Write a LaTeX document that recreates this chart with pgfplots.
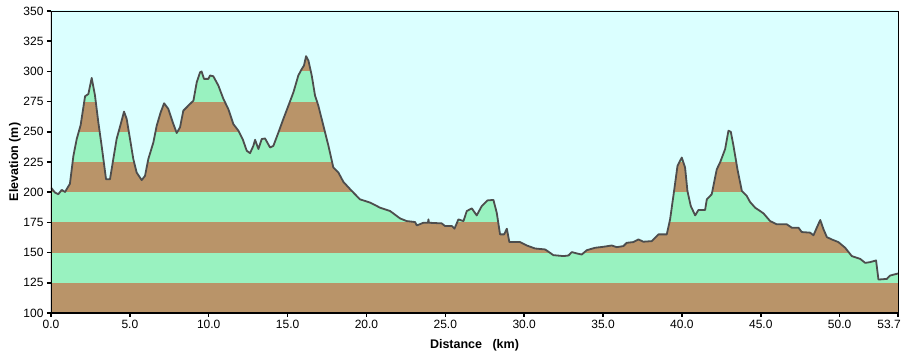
\documentclass[border=0pt]{standalone}
\usepackage{fontspec}
\setmainfont{Liberation Sans}
\usepackage{pgfplots}
\usepackage{pgfplotstable}
\pgfplotsset{compat=1.18}
\definecolor{sky}{RGB}{219,255,255}
\definecolor{soil}{RGB}{185,148,105}
\definecolor{grass}{RGB}{153,242,192}
\definecolor{prof}{RGB}{77,77,77}
\pgfplotstableread{
x y
0 203.8
0.25 199.7
0.46 198.3
0.68 201.9
0.89 200.2
1.20 207
1.42 230
1.63 244
1.88 255.6
2.16 279.4
2.37 281.3
2.58 294.6
2.79 280
3.00 258
3.21 238.4
3.49 210.7
3.74 210.7
3.95 227.4
4.16 244
4.42 256.4
4.63 266.7
4.80 260.6
5.01 244
5.22 227.4
5.43 216.3
5.75 210
5.96 213.5
6.17 227.4
6.49 241.2
6.70 255
6.95 266
7.17 273.6
7.44 268.9
7.72 257.8
7.97 249
8.18 253.7
8.39 267.5
8.81 273
9.03 275.8
9.24 291
9.45 299.3
9.55 299.9
9.70 293.8
9.98 293.8
10.08 296.6
10.29 296
10.61 288.3
10.93 277.2
11.24 268.9
11.56 256.4
11.88 250.9
12.15 244
12.41 234.3
12.62 232.3
12.83 238.4
12.94 243.4
13.15 235.7
13.36 244
13.57 244.5
13.89 237
14.10 238.4
14.42 249.5
14.73 260.6
15.05 271.6
15.37 282.7
15.68 296.6
15.90 302
16.04 304.9
16.17 312.6
16.32 309
16.53 296.6
16.74 280
16.95 271.6
17.27 255
17.59 238.4
17.90 220.4
18.22 216.3
18.54 208.5
19.07 201
19.59 194.1
20.23 191.4
20.86 187.2
21.50 184.4
22.13 178.3
22.55 176.1
23.08 175.3
23.19 172.5
23.61 174.7
23.90 174.7
23.93 177.5
23.96 174.7
24.77 174.2
24.98 172
25.41 172
25.58 169.8
25.83 177.5
26.15 176.1
26.36 184.4
26.68 186.6
26.99 180.8
27.31 188.5
27.67 193.2
28.05 193.6
28.26 183
28.47 165.1
28.73 165.1
28.90 169.8
29.06 158.7
29.74 158.7
30.16 155.9
30.69 153.4
31.33 152.6
31.85 147.9
32.49 147.1
32.81 147.6
33.02 150.4
33.34 149.3
33.65 148.4
33.97 152
34.50 154
35.02 154.8
35.55 155.9
35.87 154.5
36.29 155.4
36.50 158.1
36.92 158.7
37.24 160.9
37.56 159
38.09 159.5
38.51 165.1
39.04 165.1
39.25 177.5
39.46 196.9
39.72 221.8
39.99 228.7
40.20 220.4
40.35 201
40.56 188.6
40.84 180.8
41.05 185.3
41.47 185.3
41.58 194.1
41.89 198.3
42.21 219
42.42 224.6
42.74 235.7
42.95 250.9
43.10 250
43.27 238.4
43.52 219
43.80 201
44.11 196.9
44.32 191.9
44.64 187.2
45.17 182.5
45.59 176.1
46.02 173.4
46.65 173.4
46.97 170.6
47.39 170.6
47.60 167
48.13 166.5
48.34 164.3
48.55 170.6
48.77 177
48.98 169.2
49.19 162.8
49.50 160.9
49.92 158.7
50.35 154
50.77 147.1
51.09 145.7
51.30 144.8
51.62 141.5
51.93 142.1
52.31 143.5
52.46 127.7
52.99 128.2
53.20 131
53.70 132.7
}\profile
\begin{document}
\begin{tikzpicture}[x=1pt,y=1pt]
\begin{axis}[
  at={(0,0)}, anchor=south west,
  scale only axis, width=847pt, height=302pt,
  xmin=0, xmax=53.7, ymin=100, ymax=350,
  axis background/.style={fill=sky},
  axis on top,
  axis line style={black, line width=0.8pt},
  xtick={0,5,10,15,20,25,30,35,40,45,50,53.7},
  xticklabels={0.0,5.0,10.0,15.0,20.0,25.0,30.0,35.0,40.0,45.0,50.0,{\makebox[0pt]{\hspace{-18pt}53.7}}},
  ytick={100,125,150,175,200,225,250,275,300,325,350},
  yticklabels={100,125,150,175,200,225,250,275,300,325,350},
  tick pos=left, tick align=outside,
  major tick length=4pt,
  tick style={black, line width=1.5pt},
  tick label style={font=\fontsize{12}{14}\selectfont},
  xlabel={Distance\ \ \ (km)},
  ylabel={Elevation (m)},
  every axis x label/.style={at={(axis description cs:0.5,-0.106)}, anchor=center, font=\bfseries\fontsize{12.5}{14}\selectfont},
  every axis y label/.style={at={(axis description cs:-0.0425,0.5)}, rotate=90, anchor=center, font=\bfseries\fontsize{12.5}{14}\selectfont},
]
\addplot[fill=soil, draw=none] coordinates {(0,100)(53.7,100)(53.7,125)(0,125)} -- cycle;
\addplot[fill=grass, draw=none] coordinates {(0,125)(53.7,125)(53.7,150)(0,150)} -- cycle;
\addplot[fill=soil, draw=none] coordinates {(0,150)(53.7,150)(53.7,175)(0,175)} -- cycle;
\addplot[fill=grass, draw=none] coordinates {(0,175)(53.7,175)(53.7,200)(0,200)} -- cycle;
\addplot[fill=soil, draw=none] coordinates {(0,200)(53.7,200)(53.7,225)(0,225)} -- cycle;
\addplot[fill=grass, draw=none] coordinates {(0,225)(53.7,225)(53.7,250)(0,250)} -- cycle;
\addplot[fill=soil, draw=none] coordinates {(0,250)(53.7,250)(53.7,275)(0,275)} -- cycle;
\addplot[fill=grass, draw=none] coordinates {(0,275)(53.7,275)(53.7,300)(0,300)} -- cycle;
\addplot[fill=soil, draw=none] coordinates {(0,300)(53.7,300)(53.7,325)(0,325)} -- cycle;
\addplot[fill=sky, draw=none] table {\profile} -- (axis cs:53.7,351) -- (axis cs:0,351) -- cycle;
\addplot[prof, line width=1.8pt, line join=round] table {\profile};
\draw[black, line width=2pt] (rel axis cs:0,1) -- (rel axis cs:0,0) -- (rel axis cs:1,0);
\end{axis}
\pgfresetboundingbox
\path (-51pt,-45pt) rectangle (852pt,313pt);
\end{tikzpicture}
\end{document}
